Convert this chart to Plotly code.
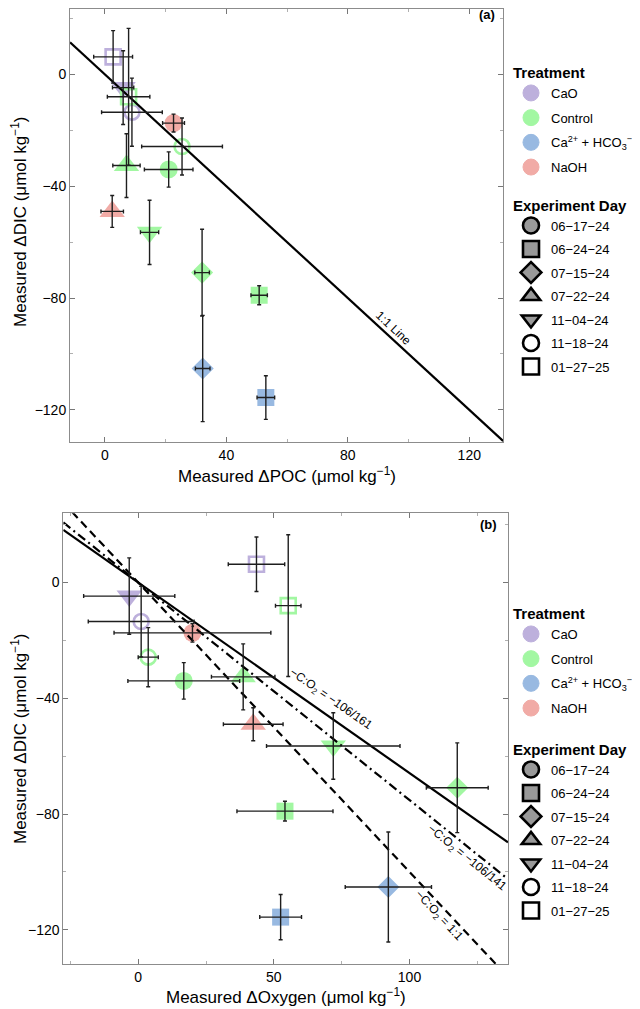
import plotly.graph_objects as go

# ---------------- data ----------------
treatment = ["CaO", "CaO", "CaO",
             "Control", "Control", "Control", "Control", "Control", "Control", "Control",
             "NaOH", "NaOH", "Ca", "Ca"]
day = ["01-27-25", "11-04-24", "11-18-24",
       "01-27-25", "11-18-24", "07-22-24", "06-17-24", "11-04-24", "07-15-24", "06-24-24",
       "06-17-24", "07-22-24", "07-15-24", "06-24-24"]
poc = [2.7, 6.0, 8.9, 7.8, 25.4, 7.1, 21.0, 14.7, 32.0, 50.8, 22.6, 2.4, 32.2, 53.0]
poc_err = [6.4, 3.5, 10.0, 7.0, 13.3, 4.5, 8.0, 3.0, 2.4, 2.7, 3.6, 3.7, 2.4, 2.9]
dic = [6.3, -4.7, -13.5, -8.0, -25.8, -32.6, -34.0, -56.5, -70.9, -79.0, -17.4, -49.0, -105.2, -115.6]
dic_err = [9.4, 13.2, 12.2, 24.5, 10.2, 11.4, 6.3, 11.5, 15.5, 3.4, 3.2, 5.7, 19.0, 7.8]
oxy = [43.6, -3.3, 1.1, 55.3, 3.7, 38.7, 16.8, 71.9, 117.6, 54.1, 20.0, 42.4, 92.2, 52.5]
oxy_err = [10.4, 16.8, 19.5, 4.7, 3.7, 11.7, 20.6, 24.6, 11.4, 17.7, 28.9, 11.0, 15.9, 7.7]

treat_names = ["CaO", "Control", "Ca", "NaOH"]
treat_labels = ["CaO", "Control", "Ca<sup>2+</sup> + HCO<sub>3</sub><sup>−</sup>", "NaOH"]
treat_colors = ["#bdb0dc", "#a2f7a2", "#98b9e1", "#f1aba6"]

day_names = ["06-17-24", "06-24-24", "07-15-24", "07-22-24", "11-04-24", "11-18-24", "01-27-25"]
day_labels = ["06−17−24", "06−24−24", "07−15−24", "07−22−24", "11−04−24", "11−18−24", "01−27−25"]
day_symbols = ["circle", "square", "diamond", "triangle-up", "triangle-down", "circle-open", "square-open"]
day_sizes = [18, 17, 17, 22, 22, 15, 15]

slope_solid = -106 / 161
slope_dashdot = -106 / 141
slope_one = -1.0

FONT = "Liberation Sans, Arial, sans-serif"
color_of = dict(zip(treat_names, treat_colors))

xr_a = [-11.5, 131.2]
yr_a = [-131.4, 23.6]
xr_b = [-27.6, 136.3]
yr_b = [-131.8, 23.9]

# page body has an 8px margin; figure is sized to fill the rest of the window
OFF = 8
W, H = 640 - OFF, 1009 - OFF


def sx(px):
    return (px - OFF) / W


def sy(px):
    return 1 - (px - OFF) / H


fig = go.Figure()

# ---------------- markers ----------------
for xs, xa, ya in [(poc, "x", "y"), (oxy, "x2", "y2")]:
    for d, sym, sz in zip(day_names, day_symbols, day_sizes):
        idx = [i for i, dd in enumerate(day) if dd == d]
        if not idx:
            continue
        cols = [color_of[treatment[i]] for i in idx]
        is_open = sym.endswith("open")
        fig.add_trace(go.Scatter(
            x=[xs[i] for i in idx], y=[dic[i] for i in idx],
            mode="markers", xaxis=xa, yaxis=ya, showlegend=False, hoverinfo="skip",
            marker=dict(symbol=sym, size=sz, color=cols,
                        line=dict(width=2.6 if is_open else 0, color=cols))))

# ---------------- reference lines ----------------
fig.add_trace(go.Scatter(x=xr_a, y=[slope_one * v for v in xr_a], mode="lines",
                         line=dict(color="black", width=2.2), xaxis="x", yaxis="y",
                         showlegend=False, hoverinfo="skip"))
for slope, dash in [(slope_solid, "solid"), (slope_dashdot, "9px,4px,2px,4px"), (slope_one, "8px,5px")]:
    fig.add_trace(go.Scatter(x=xr_b, y=[slope * v for v in xr_b], mode="lines",
                             line=dict(color="black", width=2.2, dash=dash), xaxis="x2", yaxis="y2",
                             showlegend=False, hoverinfo="skip"))

# ---------------- error bars ----------------
for xs, xe, xa, ya in [(poc, poc_err, "x", "y"), (oxy, oxy_err, "x2", "y2")]:
    fig.add_trace(go.Scatter(
        x=xs, y=dic, mode="markers", xaxis=xa, yaxis=ya, showlegend=False, hoverinfo="skip",
        marker=dict(size=1, color="rgba(0,0,0,0)"),
        error_x=dict(type="data", array=xe, color="#1e1e1e", thickness=1.4, width=2),
        error_y=dict(type="data", array=dic_err, color="#1e1e1e", thickness=1.4, width=2)))

# ---------------- legends ----------------
for leg_t, leg_d, xa, ya in [("legend", "legend2", "x", "y"), ("legend3", "legend4", "x2", "y2")]:
    for name, lab, col in zip(treat_names, treat_labels, treat_colors):
        fig.add_trace(go.Scatter(x=[None], y=[None], mode="markers", name=lab, legend=leg_t,
                                 legendgroup=leg_t + name, xaxis=xa, yaxis=ya,
                                 marker=dict(symbol="circle", size=16, color=col,
                                             line=dict(width=1, color=col))))
    for d, lab, sym in zip(day_names, day_labels, day_symbols):
        is_open = sym.endswith("open")
        fig.add_trace(go.Scatter(x=[None], y=[None], mode="markers", name=lab, legend=leg_d,
                                 legendgroup=leg_d + d, xaxis=xa, yaxis=ya,
                                 marker=dict(symbol=sym, size=16,
                                             color="black" if is_open else "#999999",
                                             line=dict(width=2.6, color="black"))))

leg_common = dict(xanchor="left", yanchor="top", bgcolor="rgba(0,0,0,0)",
                  font=dict(family=FONT, size=13, color="black"), itemsizing="trace")


def legend_cfg(title, top, gap):
    c = dict(leg_common)
    c.update(x=sx(511), y=sy(top), tracegroupgap=gap,
             title=dict(text="<b>" + title + "</b>", font=dict(family=FONT, size=15, color="black")))
    return c


axis_common = dict(showline=True, linecolor="#8c8c8c", linewidth=1, mirror="allticks",
                   ticks="inside", ticklen=5, tickcolor="#777777", tickwidth=1,
                   showgrid=False, zeroline=False,
                   tickfont=dict(family=FONT, size=14, color="black"))


def minor(dt):
    return dict(ticks="inside", ticklen=3, tickcolor="#b0b0b0", dtick=dt, tick0=0)


fig.update_layout(
    width=W, height=H, margin=dict(l=0, r=0, t=0, b=0),
    paper_bgcolor="white", plot_bgcolor="white",
    font=dict(family=FONT, color="black"),
    xaxis=dict(domain=[sx(70), sx(503.3)], range=xr_a, anchor="y", tickvals=[0, 40, 80, 120],
               minor=minor(20), **axis_common),
    yaxis=dict(domain=[sy(441.7), sy(8.5)], range=yr_a, anchor="x", tickvals=[0, -40, -80, -120],
               minor=minor(20), **axis_common),
    xaxis2=dict(domain=[sx(63.3), sx(508)], range=xr_b, anchor="y2", tickvals=[0, 50, 100],
                minor=minor(25), **axis_common),
    yaxis2=dict(domain=[sy(964), sy(513.3)], range=yr_b, anchor="x2", tickvals=[0, -40, -80, -120],
                minor=minor(20), **axis_common),
    legend=legend_cfg("Treatment", 58.5, 4.8),
    legend2=legend_cfg("Experiment Day", 191, 3.6),
    legend3=legend_cfg("Treatment", 599.5, 4.8),
    legend4=legend_cfg("Experiment Day", 735, 3.6),
)

ann = []
# axis titles
ann.append(dict(text="Measured ΔPOC (μmol kg<sup>−1</sup>)", x=sx(286.6), y=sy(475), xref="paper", yref="paper",
                showarrow=False, font=dict(family=FONT, size=17), xanchor="center", yanchor="middle"))
ann.append(dict(text="Measured ΔOxygen (μmol kg<sup>−1</sup>)", x=sx(285.6), y=sy(996), xref="paper", yref="paper",
                showarrow=False, font=dict(family=FONT, size=17), xanchor="center", yanchor="middle"))
for ymid in [222, 739]:
    ann.append(dict(text="Measured ΔDIC (μmol kg<sup>−1</sup>)", x=sx(19), y=sy(ymid), xref="paper", yref="paper",
                    showarrow=False, textangle=-90, font=dict(family=FONT, size=17),
                    xanchor="center", yanchor="middle"))
# panel labels
ann.append(dict(text="<b>(a)</b>", x=sx(487), y=sy(14), xref="paper", yref="paper", showarrow=False,
                font=dict(family=FONT, size=13), xanchor="center", yanchor="middle"))
ann.append(dict(text="<b>(b)</b>", x=sx(489), y=sy(524), xref="paper", yref="paper", showarrow=False,
                font=dict(family=FONT, size=13), xanchor="center", yanchor="middle"))
# line labels
ann.append(dict(text="1:1 Line", x=95, y=slope_one * 95, xref="x", yref="y", yshift=12, textangle=43,
                showarrow=False, font=dict(family=FONT, size=12)))
ann.append(dict(text="−C:O<sub>2</sub> = −106/161", x=70.7, y=slope_solid * 70.7, xref="x2", yref="y2",
                yshift=18, textangle=35, showarrow=False, font=dict(family=FONT, size=12)))
ann.append(dict(text="−C:O<sub>2</sub> = −106/141", x=121, y=slope_dashdot * 121, xref="x2", yref="y2",
                yshift=-12.5, textangle=39, showarrow=False, font=dict(family=FONT, size=12)))
ann.append(dict(text="−C:O<sub>2</sub> = 1:1", x=110.8, y=slope_one * 110.8, xref="x2", yref="y2",
                yshift=-12.5, textangle=47, showarrow=False, font=dict(family=FONT, size=12)))
fig.update_layout(annotations=ann)

fig.write_html("out.html")
